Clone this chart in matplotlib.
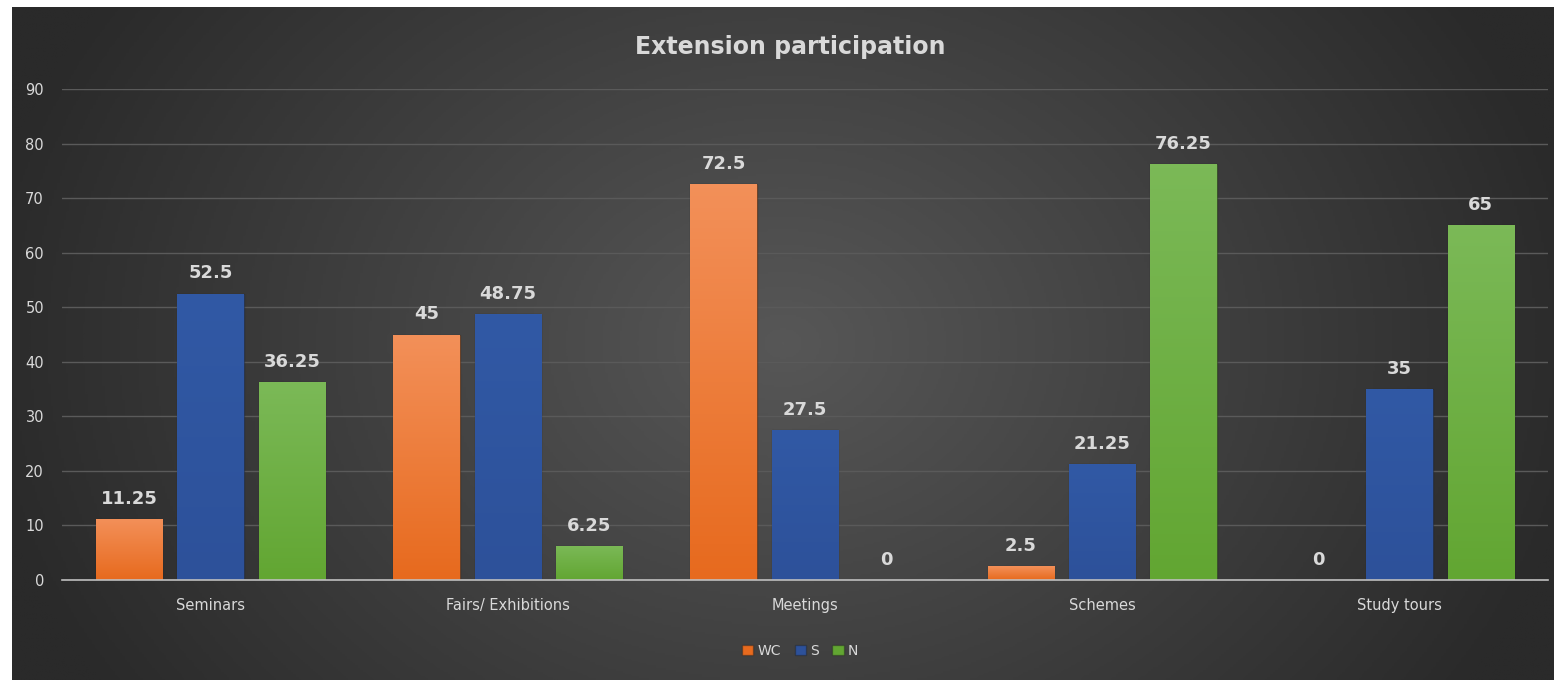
import matplotlib.pyplot as plt
import numpy as np
from matplotlib.colors import LinearSegmentedColormap

categories = ['Seminars', 'Fairs/ Exhibitions', 'Meetings', 'Schemes', 'Study tours']
series_names = ['WC', 'S', 'N']
wc_values = [11.25, 45, 72.5, 2.5, 0]
s_values = [52.5, 48.75, 27.5, 21.25, 35]
n_values = [36.25, 6.25, 0, 76.25, 65]

# top / bottom colours for each series' vertical fill
bar_colors = {
    'WC': ('#f39059', '#e76a1e'),
    'S': ('#3159a5', '#2d519a'),
    'N': ('#7bb957', '#62a632'),
}
text_color = '#d9d9d9'

fig = plt.figure(figsize=(15.54, 6.8), dpi=100, facecolor='white')

# dark chart-area background with a soft light centre
bg = fig.add_axes([12 / 1554, 0, 1 - 12 / 1554, 1 - 7 / 680])
yy, xx = np.mgrid[-1:1:300j, -1:1:600j]
r = np.sqrt((xx / 1.0) ** 2 + (yy / 1.8) ** 2)
bg_cmap = LinearSegmentedColormap.from_list('bg', ['#575757', '#2a2a2a'])
bg.imshow(r, cmap=bg_cmap, aspect='auto', extent=[0, 1, 0, 1], vmin=0, vmax=1.05)
bg.set_axis_off()

ax = fig.add_axes([62 / 1554, 1 - 580 / 680, (1548 - 62) / 1554, (580 - 89) / 680])
ax.patch.set_alpha(0)

x = np.arange(len(categories))
width = 0.223
step = 0.274
all_values = [wc_values, s_values, n_values]

for i, (name, vals) in enumerate(zip(series_names, all_values)):
    pos = x + (i - 1) * step
    top_c, bot_c = bar_colors[name]
    bars = ax.bar(pos, vals, width, color=bot_c, label=name, zorder=3,
                  edgecolor=(0.1, 0.1, 0.1, 0.35), linewidth=1.0)
    grad = LinearSegmentedColormap.from_list(name, [bot_c, top_c])
    for bar, v in zip(bars, vals):
        if v > 0:
            x0 = bar.get_x()
            im = ax.imshow(np.linspace(0, 1, 100).reshape(-1, 1), cmap=grad,
                           origin='lower', aspect='auto', zorder=3.5,
                           extent=[x0, x0 + bar.get_width(), 0, v])
            im.set_clip_path(bar)
        ax.annotate(f'{v:g}', (bar.get_x() + bar.get_width() / 2, v),
                    xytext=(0, 8), textcoords='offset points',
                    ha='center', va='bottom', fontsize=13, fontweight='bold',
                    color=text_color, zorder=5)

ax.set_xlim(-0.5, len(categories) - 0.5)
ax.set_ylim(0, 90)
ax.set_yticks(range(0, 91, 10))
ax.set_xticks(x)
ax.set_xticklabels(categories)
ax.tick_params(axis='both', length=0, colors=text_color, labelsize=10.5)
ax.tick_params(axis='x', pad=13)
ax.tick_params(axis='y', pad=13)
ax.grid(axis='y', color='#5a5a5a', linewidth=1, zorder=0)
for side in ['top', 'right', 'left']:
    ax.spines[side].set_visible(False)
ax.spines['bottom'].set_color('#bfbfbf')
ax.spines['bottom'].set_linewidth(1.2)
ax.spines['bottom'].set_zorder(6)

fig.text(790 / 1554, 1 - 47 / 680, 'Extension participation', ha='center', va='center',
         fontsize=17, fontweight='bold', color=text_color)

handles, labels = ax.get_legend_handles_labels()
leg = fig.legend(handles, labels, loc='center', bbox_to_anchor=(800 / 1554, 1 - 651 / 680),
                 ncol=3, frameon=False, fontsize=10, handlelength=0.8, handleheight=0.8,
                 handletextpad=0.3, columnspacing=1.0)
for t in leg.get_texts():
    t.set_color(text_color)

fig.savefig('out.png', dpi=100, facecolor=fig.get_facecolor())
